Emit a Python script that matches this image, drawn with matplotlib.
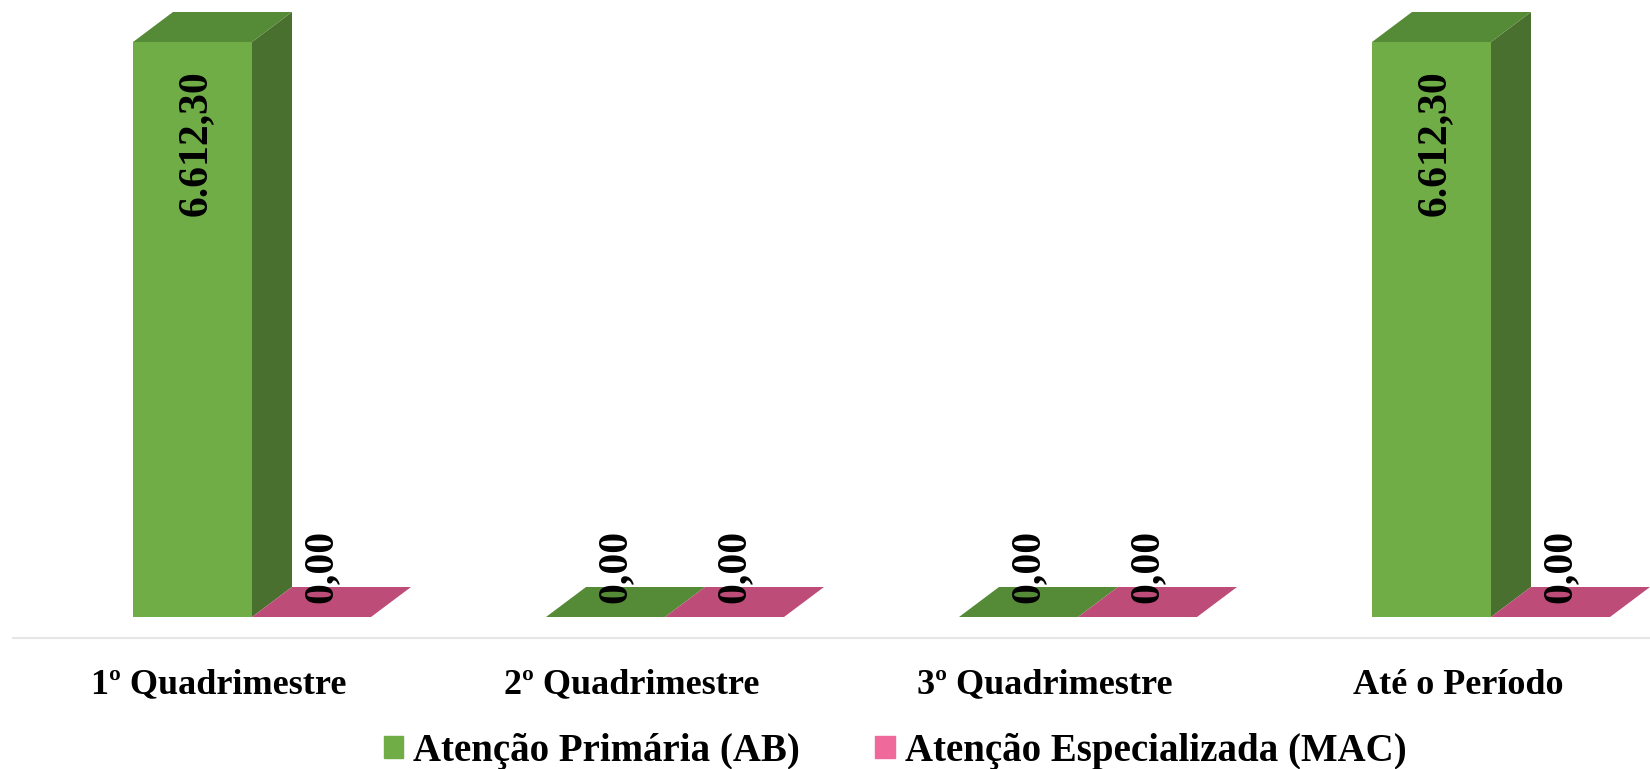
import numpy as np
import matplotlib.pyplot as plt
from matplotlib.patches import Polygon, Patch

categories = ["1º Quadrimestre", "2º Quadrimestre", "3º Quadrimestre", "Até o Período"]
ab_values = [6612.30, 0.00, 0.00, 6612.30]
mac_values = [0.00, 0.00, 0.00, 0.00]
series_names = ["Atenção Primária (AB)", "Atenção Especializada (MAC)"]

W, H = 1650, 769
fig = plt.figure(figsize=(W / 100, H / 100), dpi=100)
ax = fig.add_axes([0, 0, 1, 1])
ax.axis("off")

# pixel geometry of the original: group spacing 413px, baseline at 617px, top of 6612,30 at 42px
xpx = 413.0
ypx = max(ab_values) / 575.0
ax.set_xlim(-252 / xpx, (W - 252) / xpx)
ax.set_ylim(-(H - 617) * ypx, 617 * ypx)

bw = 119 / xpx
dx = 40 / xpx
dy = 30 * ypx

x = np.arange(len(categories))
series = [
    (ab_values, x - bw, "#70ad47", "#4a7030", "#558b37"),
    (mac_values, x, "#ef6a9a", "#a33d66", "#bd4c79"),
]

font = "Liberation Serif"
for vals, lefts, front, side, top in series:
    ax.bar(lefts, vals, width=bw, align="edge", color=front, zorder=2, linewidth=0)
    for l, v in zip(lefts, vals):
        if v > 0:
            ax.add_patch(Polygon([(l + bw, 0), (l + bw, v), (l + bw + dx, v + dy), (l + bw + dx, dy)],
                                 closed=True, color=side, lw=0, zorder=2))
        ax.add_patch(Polygon([(l, v), (l + bw, v), (l + bw + dx, v + dy), (l + dx, v + dy)],
                             closed=True, color=top, lw=0, zorder=2))
        label = f"{v:,.2f}".replace(",", "X").replace(".", ",").replace("X", ".")
        if v > 0:
            ax.text(l + bw / 2 + 3 / xpx, v - 28 * ypx, label, rotation=90, ha="center", va="top",
                    fontsize=30, fontweight="bold", family=font, zorder=3)
        else:
            ax.text(l + bw / 2 + 10 / xpx, 14 * ypx, label, rotation=90, ha="center", va="bottom",
                    fontsize=30, fontweight="bold", family=font, zorder=3)

ax.axhline(-21 * ypx, xmin=13 / W, xmax=1, color="#e6e6e6", lw=1.5, zorder=1)

for i, c in enumerate(categories):
    ax.text(i - 33 / xpx, -68 * ypx, c, ha="center", va="center", fontsize=26,
            fontweight="bold", family=font)

handles = [Patch(color="#70ad47"), Patch(color="#ef6a9a")]
fig.legend(handles, series_names, loc="center", bbox_to_anchor=(895 / W, 1 - 751 / H), ncol=2,
           frameon=False, prop={"family": font, "weight": "bold", "size": 28},
           handlelength=0.5, handleheight=0.5, handletextpad=0.25, columnspacing=1.95)

fig.savefig("out.png", dpi=100)
